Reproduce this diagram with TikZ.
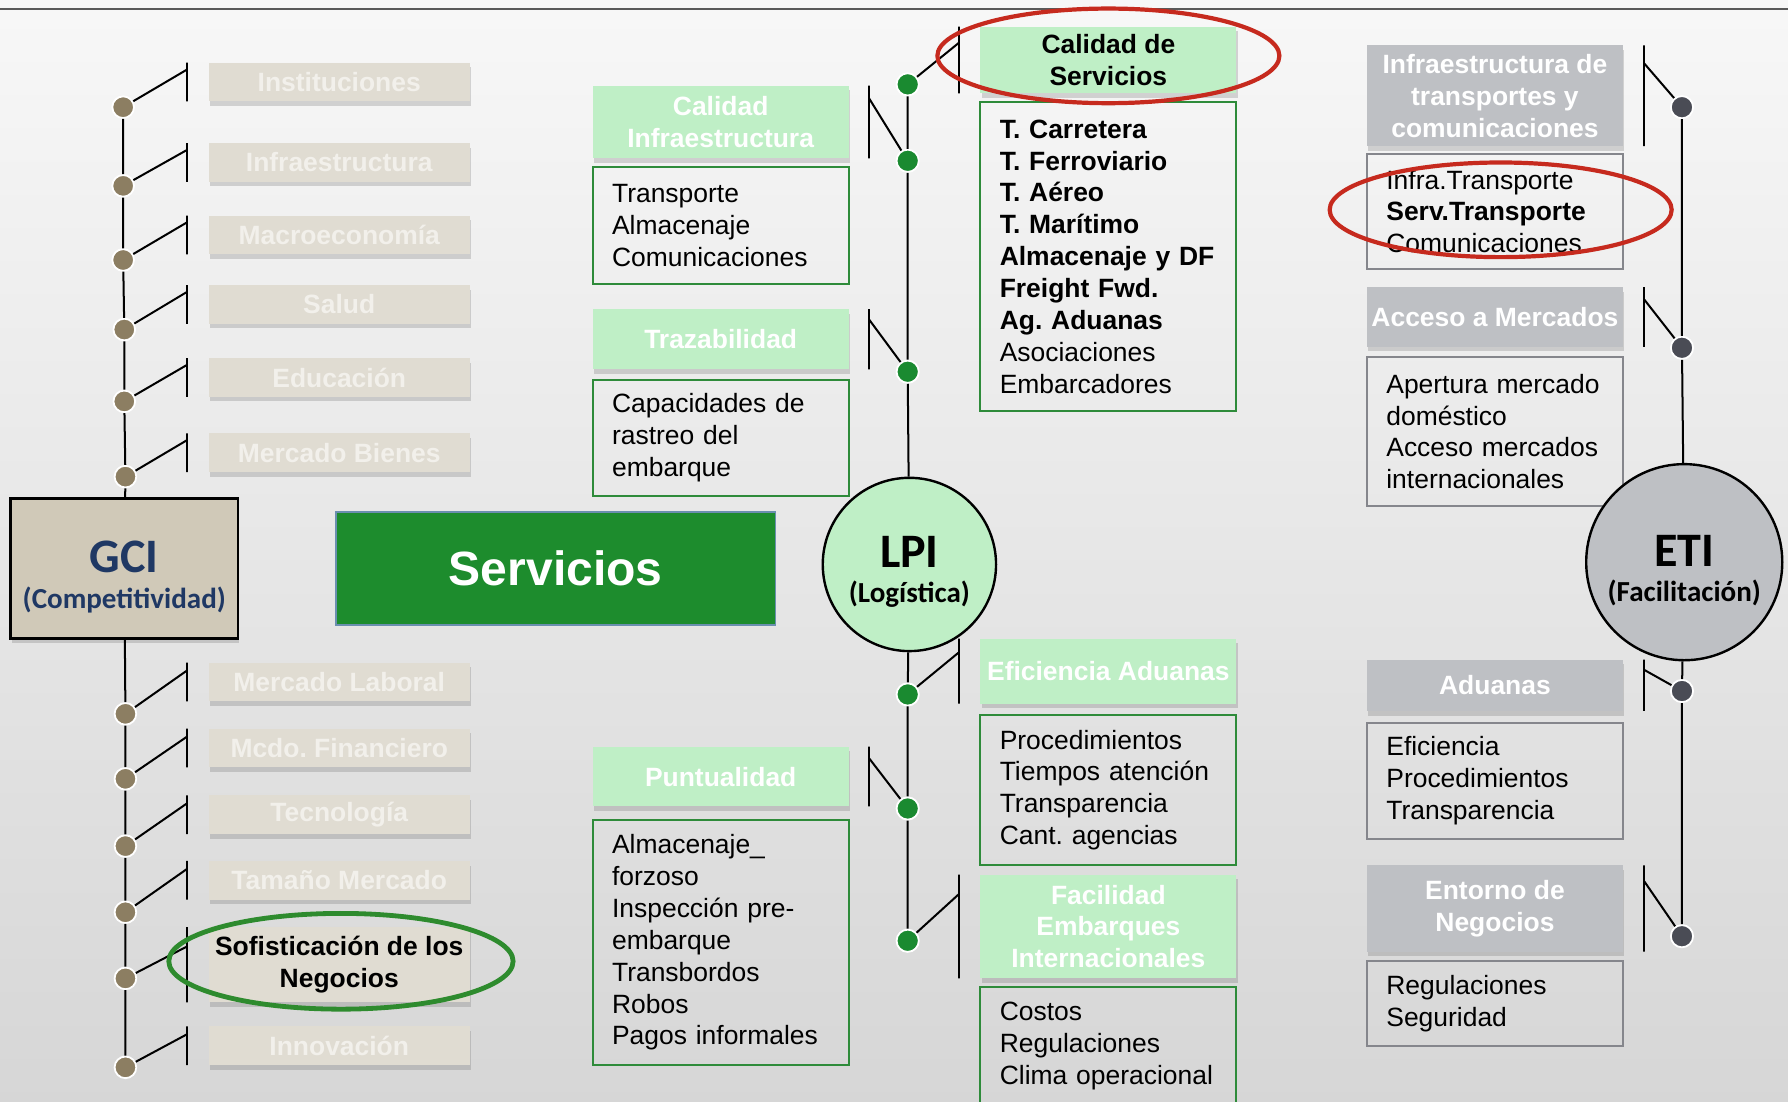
\documentclass[tikz,border=0pt]{standalone}
\usepackage{fontspec}
\setmainfont{Liberation Sans}
\newfontfamily\cfont{Carlito}
\usepackage{tikz}
\usetikzlibrary{positioning,shadows}

\definecolor{gcifill}{HTML}{E0DCD2}
\definecolor{gcitext}{HTML}{F2F0EB}
\definecolor{gcidotc}{HTML}{8C7E62}
\definecolor{gcibase}{HTML}{D0C9B8}
\definecolor{gcinavy}{HTML}{1F3864}
\definecolor{lpilight}{HTML}{BFEFC6}
\definecolor{lpiline}{HTML}{2E8B3A}
\definecolor{lpidotc}{HTML}{1A8A30}
\definecolor{servgreen}{HTML}{1D8C2D}
\definecolor{servedge}{HTML}{6A8FAF}
\definecolor{etigrey}{HTML}{BEC0C4}
\definecolor{etiline}{HTML}{85868C}
\definecolor{etidotc}{HTML}{4A4C55}
\definecolor{ringred}{HTML}{C62A1E}
\definecolor{ringgreen}{HTML}{2E8B2E}
\newcommand\boxfont{\fontsize{13.2}{15.9}\selectfont}
\newcommand\circfont{\cfont\bfseries\fontsize{14.5}{17.5}\selectfont}
\newcommand\bigfont{\fontsize{24}{17.5}\selectfont}

\begin{document}
\frenchspacing
\begin{tikzpicture}[x=0.02cm, y=-0.02cm,
  shade box/.style={drop shadow={shadow xshift=0.02cm, shadow yshift=-0.08cm, opacity=0.25, fill=black!60}},
  gcibox/.style={fill=gcifill, text=gcitext, font=\bfseries\boxfont, align=center, minimum width=4.58cm, minimum height=0.68cm, inner sep=0pt, shade box},
  gcidot/.style={circle, fill=gcidotc, draw=white, line width=0.9pt, minimum size=0.38cm, inner sep=0pt},
  lpihead/.style={fill=lpilight, text=white, font=\bfseries\boxfont, align=center, minimum width=4.49cm, inner sep=0pt, shade box},
  lpilist/.style={draw=lpiline, line width=1pt, font=\boxfont, align=left, text width=3.81cm, inner xsep=0.34cm, inner ysep=0pt},
  lpidot/.style={circle, fill=lpidotc, draw=white, line width=0.9pt, minimum size=0.39cm, inner sep=0pt},
  etihead/.style={lpihead, fill=etigrey, minimum width=4.5cm},
  etilist/.style={lpilist, draw=etiline},
  etidot/.style={lpidot, fill=etidotc},
  tickbar/.style={draw, line width=1pt, inner sep=0pt, outer sep=0pt, minimum width=0pt},
  link/.style={line width=1pt},
  ring/.style={line width=2.1pt}]
\useasboundingbox (0,0) rectangle (1568,966);
\clip (0,0) rectangle (1568,966);
\shade[top color=white!97!black, bottom color=black!16] (0,0) rectangle (1568,966);
\draw[line width=1.2pt, black!65] (0,7.8) -- (1568,7.8);

\node[gcibox] (inst) at (297.5,72) {Instituciones};
\node[gcibox] (infra) at (297.5,142.5) {Infraestructura};
\node[gcibox] (macro) at (297.5,206) {Macroeconomía};
\node[gcibox] (salud) at (297.5,267) {Salud};
\node[gcibox] (educ) at (297.5,331) {Educación};
\node[gcibox] (bienes) at (297.5,397) {Mercado Bienes};
\node[gcibox] (laboral) at (297.5,598) {Mercado Laboral};
\node[gcibox] (financ) at (297.5,656) {Mcdo. Financiero};
\node[gcibox] (tecno) at (297.5,714.5) {Tecnología};
\node[gcibox] (tamano) at (297.5,772) {Tamaño Mercado};
\node[gcibox, text=black, minimum height=1.32cm] (sofis) at (297.5,846) {Sofisticación de los\\Negocios};
\node[gcibox] (innov) at (297.5,917) {Innovación};

\node[tickbar, minimum height=0.68cm] (kinst) at (164,72) {};
\node[tickbar, minimum height=0.68cm] (kinfra) at (164,142.5) {};
\node[tickbar, minimum height=0.68cm] (kmacro) at (164,206) {};
\node[tickbar, minimum height=0.68cm] (ksalud) at (164,267) {};
\node[tickbar, minimum height=0.68cm] (keduc) at (164,331) {};
\node[tickbar, minimum height=0.68cm] (kbienes) at (164,397) {};
\node[tickbar, minimum height=0.68cm] (klaboral) at (164,598) {};
\node[tickbar, minimum height=0.68cm] (kfinanc) at (164,656) {};
\node[tickbar, minimum height=0.68cm] (ktecno) at (164,714.5) {};
\node[tickbar, minimum height=0.68cm] (ktamano) at (164,772) {};
\node[tickbar, minimum height=1.32cm] (ksofis) at (164,846) {};
\node[tickbar, minimum height=0.68cm] (kinnov) at (164,917) {};

\node[fill=gcibase, draw, line width=1.2pt, minimum width=3.99cm, minimum height=2.46cm, shade box,
  label={[yshift=-0.15cm, align=center, text=gcinavy, font=\circfont]center:{{\bigfont GCI}\\(Competitividad)}}] (gci) at (109,498.5) {};

\node[gcidot] (d1) at (108,94) {};
\node[gcidot] (d2) at (108,163) {};
\node[gcidot] (d3) at (108,228) {};
\node[gcidot] (d4) at (109,289) {};
\node[gcidot] (d5) at (109,352) {};
\node[gcidot] (d6) at (110,418) {};
\node[gcidot] (e1) at (110,626) {};
\node[gcidot] (e2) at (110,683) {};
\node[gcidot] (e3) at (110,742) {};
\node[gcidot] (e4) at (110,800) {};
\node[gcidot] (e5) at (110,858) {};
\node[gcidot] (e6) at (110,936) {};

\draw[link] (d1) -- (d2) -- (d3) -- (d4) -- (d5) -- (d6) -- (gci);
\draw[link] (gci) -- (e1) -- (e2) -- (e3) -- (e4) -- (e5) -- (e6);
\draw[link] (d1) -- ([yshift=-0.12cm]kinst.north);
\draw[link] (d2) -- ([yshift=-0.12cm]kinfra.north);
\draw[link] (d3) -- ([yshift=-0.12cm]kmacro.north);
\draw[link] (d4) -- ([yshift=-0.12cm]ksalud.north);
\draw[link] (d5) -- ([yshift=-0.12cm]keduc.north);
\draw[link] (d6) -- ([yshift=-0.12cm]kbienes.north);
\draw[link] (e1) -- ([yshift=-0.14cm]klaboral.north);
\draw[link] (e2) -- ([yshift=-0.14cm]kfinanc.north);
\draw[link] (e3) -- ([yshift=-0.14cm]ktecno.north);
\draw[link] (e4) -- ([yshift=-0.14cm]ktamano.north);
\draw[link] (e5) -- ([yshift=-0.34cm]ksofis.north);
\draw[link] (e6) -- ([yshift=-0.14cm]kinnov.north);

\node[fill=servgreen, draw=servedge, line width=0.8pt, minimum width=7.71cm, minimum height=1.99cm, text=white, font=\bfseries\fontsize{24}{28}\selectfont] (serv) at (487.3,498.5) {Servicios};

\node[lpihead, text=black, minimum height=1.17cm] (calserv) at (972,52.7) {Calidad de\\Servicios};
\node[lpilist, minimum height=5.43cm] (calservl) at (972,225) {\textbf{T. Carretera}\\\textbf{T. Ferroviario}\\\textbf{T. Aéreo}\\\textbf{T. Marítimo}\\\textbf{Almacenaje y DF}\\\textbf{Freight Fwd.}\\\textbf{Ag. Aduanas}\\Asociaciones\\Embarcadores};
\node[lpihead, minimum height=1.28cm] (calinf) at (632,107) {Calidad\\Infraestructura};
\node[lpilist, minimum height=2.05cm] (calinfl) at (632,197.8) {Transporte\\Almacenaje\\Comunicaciones};
\node[lpihead, minimum height=1.06cm] (traz) at (632,297.5) {Trazabilidad};
\node[lpilist, minimum height=2.04cm] (trazl) at (632,384) {Capacidades de\\rastreo del\\embarque};
\node[lpihead, minimum height=1.14cm] (efic) at (972,588.5) {Eficiencia Aduanas};
\node[lpilist, minimum height=2.63cm] (eficl) at (972,692.8) {Procedimientos\\Tiempos atención\\Transparencia\\Cant. agencias};
\node[lpihead, minimum height=1.05cm] (puntual) at (632,681) {Puntualidad};
\node[lpilist, minimum height=4.3cm] (puntuall) at (632,826.5) {Almacenaje\_\\forzoso\\Inspección pre-\\embarque\\Transbordos\\Robos\\Pagos informales};
\node[lpihead, minimum height=1.82cm] (facil) at (972,812.5) {Facilidad\\Embarques\\Internacionales};
\node[lpilist, minimum height=2.06cm] (facill) at (972,917) {Costos\\Regulaciones\\Clima operacional};

\node[tickbar, minimum height=1.17cm] (kcalserv) at (841,52.7) {};
\node[tickbar, minimum height=1.28cm] (kcalinf) at (762,107) {};
\node[tickbar, minimum height=1.06cm] (ktraz) at (762,297.5) {};
\node[tickbar, minimum height=1.14cm] (kefic) at (841,588.5) {};
\node[tickbar, minimum height=1.05cm] (kpuntual) at (762,681) {};
\node[tickbar, minimum height=1.82cm] (kfacil) at (841,812.5) {};

\node[circle, fill=lpilight, draw, line width=1.2pt, minimum size=3.04cm, inner sep=0pt,
  label={[yshift=-0.13cm, align=center, font=\circfont]center:{{\bigfont LPI}\\(Logística)}}] (lpi) at (797.5,495) {};

\node[lpidot] (p1) at (796,74) {};
\node[lpidot] (p2) at (796,141) {};
\node[lpidot] (p3) at (796,326) {};
\node[lpidot] (p4) at (796,609) {};
\node[lpidot] (p5) at (796,709) {};
\node[lpidot] (p6) at (796,825) {};

\draw[link] (lpi) -- (p3) -- (p2) -- (p1);
\draw[link] (lpi) -- (p4) -- (p5) -- (p6);
\draw[link] (p1) -- ([yshift=-0.28cm]kcalserv.north);
\draw[link] ([yshift=-0.22cm]kcalinf.north) -- (p2);
\draw[link] ([yshift=-0.18cm]ktraz.north) -- (p3);
\draw[link] (p4) -- ([yshift=-0.24cm]kefic.north);
\draw[link] ([yshift=-0.2cm]kpuntual.north) -- (p5);
\draw[link] (p6) -- ([yshift=-0.34cm]kfacil.north);

\node[etihead, minimum height=1.77cm] (infratc) at (1311,84) {Infraestructura de\\transportes y\\comunicaciones};
\node[etilist, minimum height=2.03cm] (infratcl) at (1311,185.5) {Infra.Transporte\\\textbf{Serv.Transporte}\\Comunicaciones};
\node[etihead, minimum height=1.05cm] (acceso) at (1311,278) {Acceso a Mercados};
\node[etilist, minimum height=2.62cm] (accesol) at (1311,378.5) {Apertura mercado\\doméstico\\Acceso mercados\\internacionales};
\node[etihead, minimum height=0.9cm] (aduanas) at (1311,601) {Aduanas};
\node[etilist, minimum height=2.04cm] (aduanasl) at (1311,684.6) {Eficiencia\\Procedimientos\\Transparencia};
\node[etihead, minimum height=1.51cm] (entorno) at (1311,796.7) {Entorno de\\Negocios};
\node[etilist, minimum height=1.49cm] (entornol) at (1311,880) {Regulaciones\\Seguridad};

\node[tickbar, minimum height=1.77cm] (kinfratc) at (1442,84) {};
\node[tickbar, minimum height=1.05cm] (kacceso) at (1442,278) {};
\node[tickbar, minimum height=0.9cm] (kaduanas) at (1442,601) {};
\node[tickbar, minimum height=1.51cm] (kentorno) at (1442,796.7) {};

\node[circle, fill=etigrey, draw, line width=1.2pt, minimum size=3.44cm, inner sep=0pt,
  label={[yshift=-0.14cm, align=center, font=\circfont]center:{{\bigfont ETI}\\(Facilitación)}}] (eti) at (1477,493) {};

\node[etidot] (q1) at (1475,94) {};
\node[etidot] (q2) at (1475,305) {};
\node[etidot] (q3) at (1475,606) {};
\node[etidot] (q4) at (1475,821) {};

\draw[link] (q1) -- (q2) -- (eti) -- (q3) -- (q4);
\draw[link] ([yshift=-0.32cm]kinfratc.north) -- (q1);
\draw[link] ([yshift=-0.22cm]kacceso.north) -- (q2);
\draw[link] ([yshift=-0.18cm]kaduanas.north) -- (q3);
\draw[link] ([yshift=-0.28cm]kentorno.north) -- (q4);

\draw[ring, ringred] (972,49) ellipse [x radius=3cm, y radius=0.83cm];
\draw[ring, ringred] (1316,184) ellipse [x radius=3cm, y radius=0.83cm];
\draw[ring, ringgreen, line width=2.4pt] (299,843) ellipse [x radius=3.02cm, y radius=0.84cm];
\end{tikzpicture}
\end{document}
